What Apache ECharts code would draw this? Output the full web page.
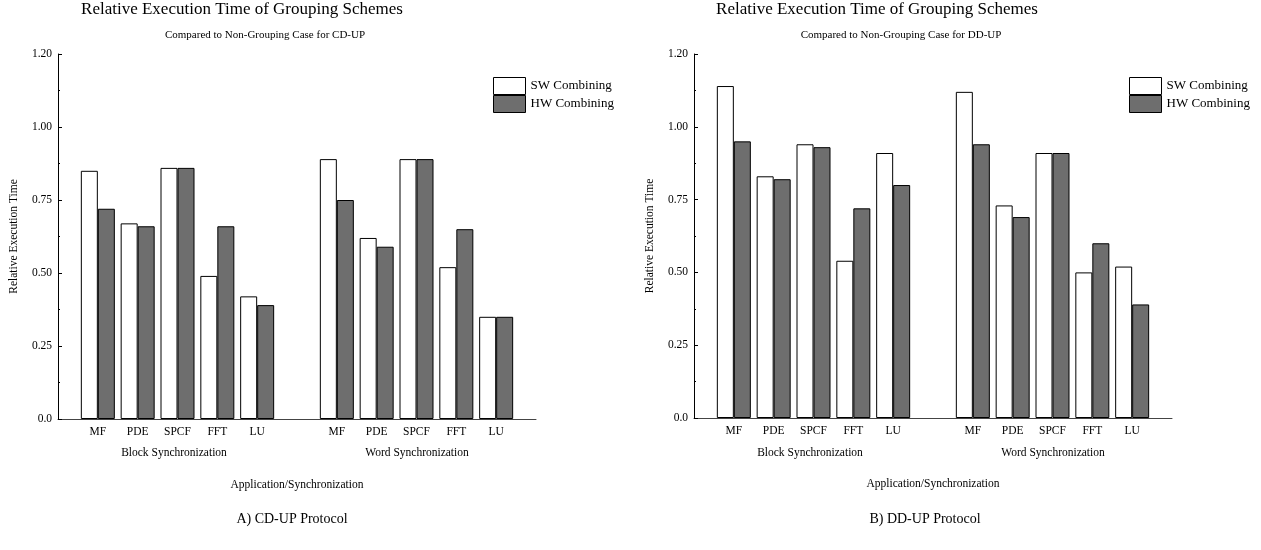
<!DOCTYPE html>
<html>
<head>
<meta charset="utf-8">
<script src="https://cdn.jsdelivr.net/npm/echarts@6/dist/echarts.min.js"></script>
<style>
  html, body { margin: 0; padding: 0; background: #fff; }
  #chart { width: 1261px; height: 550px; }
</style>
</head>
<body>
<div id="chart"></div>
<script>
// apps in each synchronization block
const apps = ['MF', 'PDE', 'SPCF', 'FFT', 'LU'];
// y tick labels as printed (top one reads 1.20)
const yTickLabels = ['0.0', '0.25', '0.50', '0.75', '1.00', '1.20'];

// CD-UP protocol
const cdBlockSw = [0.85, 0.67, 0.86, 0.49, 0.42];
const cdBlockHw = [0.72, 0.66, 0.86, 0.66, 0.39];
const cdWordSw = [0.89, 0.62, 0.89, 0.52, 0.35];
const cdWordHw = [0.75, 0.59, 0.89, 0.65, 0.35];

// DD-UP protocol
const ddBlockSw = [1.14, 0.83, 0.94, 0.54, 0.91];
const ddBlockHw = [0.95, 0.82, 0.93, 0.72, 0.80];
const ddWordSw = [1.12, 0.73, 0.91, 0.50, 0.52];
const ddWordHw = [0.94, 0.69, 0.91, 0.60, 0.39];

const FONT = '"Liberation Serif", "DejaVu Serif", serif';

// blank slot, block apps, blank slot, word apps, blank slot
const categories = [''].concat(apps, [''], apps, ['']);
const joinData = (block, word) => [null].concat(block, [null], word, [null]);

const makeXAxis = (gridIndex) => ({
    gridIndex: gridIndex,
    type: 'category',
    data: categories,
    boundaryGap: false,
    axisLine: { lineStyle: { color: '#444', width: 1 } },
    axisTick: { show: false },
    axisLabel: { interval: 0, color: '#000', fontFamily: FONT, fontSize: 11.5, margin: 7 },
    name: 'Application/Synchronization',
    nameLocation: 'middle',
    nameGap: 60,
    nameTextStyle: { color: '#000', fontFamily: FONT, fontSize: 11.5 }
});

const makeYAxis = (gridIndex) => ({
    gridIndex: gridIndex,
    type: 'value',
    min: 0,
    max: 1.25,
    interval: 0.25,
    axisLine: { show: true, lineStyle: { color: '#000', width: 1 } },
    axisTick: { show: true, inside: true, length: 4, lineStyle: { color: '#000' } },
    minorTick: { show: true, splitNumber: 2, length: 2, lineStyle: { color: '#000' } },
    splitLine: { show: false },
    axisLabel: {
        color: '#000', fontFamily: FONT, fontSize: 11.5, margin: 6,
        formatter: function (val) {
            return yTickLabels[Math.round(val / 0.25)];
        }
    },
    name: 'Relative Execution Time',
    nameLocation: 'middle',
    nameGap: 38,
    nameTextStyle: { color: '#000', fontFamily: FONT, fontSize: 11.5 }
});

const makeBar = (name, idx, data, color) => ({
    name: name,
    type: 'bar',
    xAxisIndex: idx,
    yAxisIndex: idx,
    data: data,
    barWidth: 17,
    barGap: '0%',
    itemStyle: { color: color, borderColor: '#000', borderWidth: 1 },
    emphasis: { disabled: true }
});

const makeLegend = (left) => ({
    orient: 'vertical',
    left: left,
    top: 72,
    itemWidth: 32,
    itemHeight: 17,
    itemGap: 0,
    icon: 'rect',
    selectedMode: false,
    data: ['SW Combining', 'HW Combining'],
    itemStyle: { borderColor: '#000', borderWidth: 1 },
    textStyle: { color: '#000', fontFamily: FONT, fontSize: 13 }
});

const textItem = (text, x, y, size) => ({
    text: text,
    left: x,
    top: y,
    textAlign: 'center',
    padding: 0,
    textStyle: { color: '#000', fontFamily: FONT, fontSize: size, fontWeight: 'normal' }
});

const option = {
    animation: false,
    title: [
        textItem('Relative Execution Time of Grouping Schemes', 242, 1, 17),
        textItem('Compared to Non-Grouping Case for CD-UP', 265, 30, 11),
        textItem('Block Synchronization', 174, 447, 11.5),
        textItem('Word Synchronization', 417, 447, 11.5),
        textItem('A) CD-UP Protocol', 292, 512, 14),
        textItem('Relative Execution Time of Grouping Schemes', 877, 1, 17),
        textItem('Compared to Non-Grouping Case for DD-UP', 901, 30, 11),
        textItem('Block Synchronization', 810, 447, 11.5),
        textItem('Word Synchronization', 1053, 447, 11.5),
        textItem('B) DD-UP Protocol', 925, 512, 14)
    ],
    legend: [makeLegend(488), makeLegend(1124)],
    grid: [
        { left: 58, top: 54, width: 478, height: 365 },
        { left: 694, top: 54, width: 478, height: 364 }
    ],
    xAxis: [makeXAxis(0), makeXAxis(1)],
    yAxis: [makeYAxis(0), makeYAxis(1)],
    series: [
        makeBar('SW Combining', 0, joinData(cdBlockSw, cdWordSw), '#ffffff'),
        makeBar('HW Combining', 0, joinData(cdBlockHw, cdWordHw), '#6e6e6e'),
        makeBar('SW Combining', 1, joinData(ddBlockSw, ddWordSw), '#ffffff'),
        makeBar('HW Combining', 1, joinData(ddBlockHw, ddWordHw), '#6e6e6e')
    ]
};

const chart = echarts.init(document.getElementById('chart'));
chart.setOption(option);
</script>
</body>
</html>
